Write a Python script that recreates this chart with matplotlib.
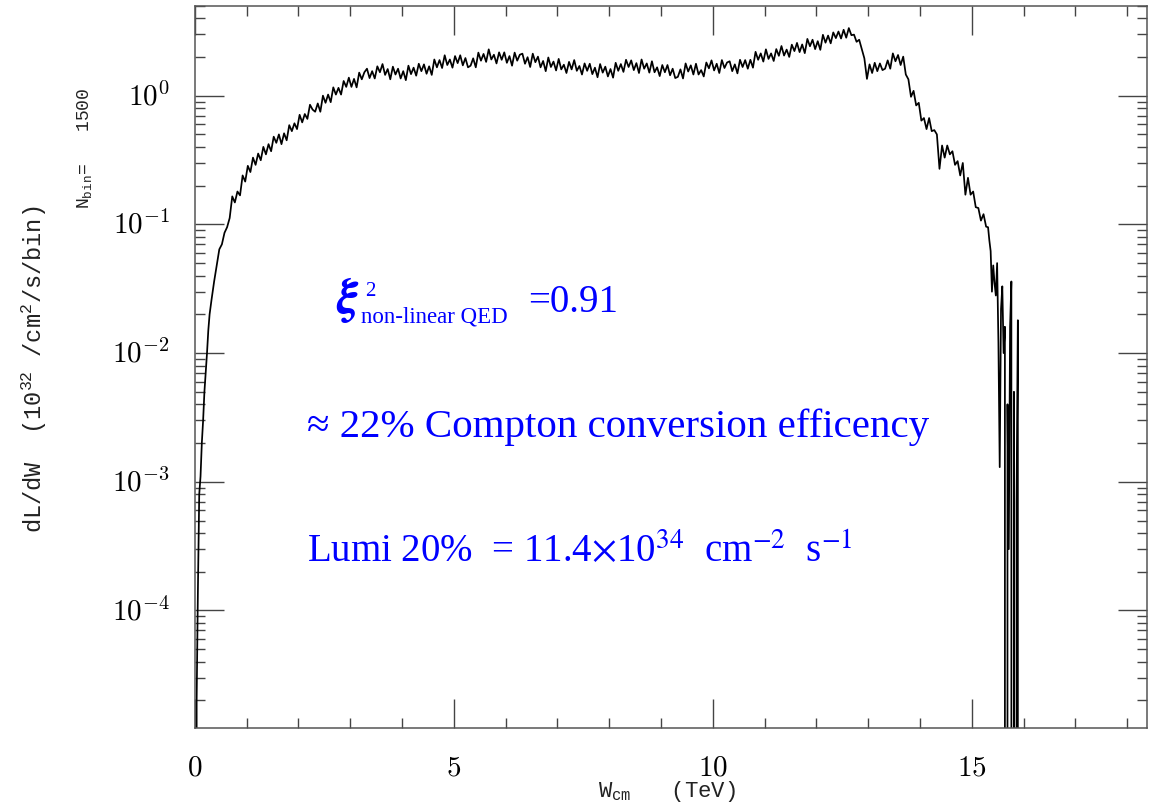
import numpy as np
import matplotlib.pyplot as plt
from matplotlib.ticker import LogLocator, NullFormatter

plt.rcParams['mathtext.fontset'] = 'custom'
plt.rcParams['mathtext.rm'] = 'Liberation Mono'
plt.rcParams['mathtext.it'] = 'Liberation Mono:italic'
plt.rcParams['mathtext.bf'] = 'Liberation Mono:bold'

# histogram: dL/dW per bin
# 0 - 0.3 TeV, bins of 0.025
head_vals = [0, 2e-5, 1.5e-4, 8e-4, 1.1e-3, 2.0e-3, 3.0e-3, 5.0e-3, 7.0e-3, 1.0e-2, 1.5e-2, 2.0e-2]

# 0.3 - 15.3 TeV, bins of 0.05 (one row = 1 TeV)
body_vals = [
    0.026, 0.036, 0.048, 0.064, 0.070, 0.086, 0.095, 0.112, 0.165, 0.148, 0.180, 0.168, 0.240, 0.215, 0.285, 0.255, 0.330, 0.290, 0.355, 0.315,
    0.40, 0.35, 0.42, 0.37, 0.48, 0.43, 0.50, 0.42, 0.51, 0.45, 0.59, 0.53, 0.61, 0.55, 0.71, 0.62, 0.72, 0.66, 0.85, 0.78,
    0.75, 0.87, 0.75, 1.00, 0.88, 1.02, 0.89, 1.16, 1.02, 1.15, 1.02, 1.30, 1.17, 1.38, 1.17, 1.35, 1.16, 1.51, 1.34, 1.52,
    1.62, 1.37, 1.55, 1.36, 1.69, 1.52, 1.76, 1.45, 1.61, 1.34, 1.68, 1.46, 1.62, 1.36, 1.55, 1.32, 1.71, 1.47, 1.65, 1.43,
    1.77, 1.55, 1.75, 1.48, 1.69, 1.45, 1.91, 1.66, 1.89, 1.64, 2.06, 1.73, 1.91, 1.65, 2.03, 1.79, 2.06, 1.72, 1.96, 1.66,
    1.71, 1.95, 1.66, 2.16, 1.87, 2.11, 1.83, 2.29, 1.91, 2.08, 1.78, 2.17, 1.90, 2.17, 1.80, 2.03, 1.71, 2.16, 1.87, 2.08,
    2.12, 1.77, 1.99, 1.67, 2.12, 1.82, 2.01, 1.66, 1.86, 1.55, 1.98, 1.67, 1.84, 1.57, 1.93, 1.60, 1.74, 1.50, 1.83, 1.60,
    1.89, 1.56, 1.70, 1.46, 1.78, 1.56, 1.77, 1.47, 1.65, 1.39, 1.76, 1.51, 1.68, 1.41, 1.61, 1.38, 1.80, 1.56, 1.76, 1.53,
    1.90, 1.67, 1.88, 1.58, 1.79, 1.50, 1.91, 1.62, 1.78, 1.51, 1.85, 1.52, 1.66, 1.42, 1.73, 1.52, 1.73, 1.44, 1.62, 1.37,
    1.40, 1.60, 1.36, 1.78, 1.54, 1.72, 1.46, 1.77, 1.46, 1.58, 1.41, 1.81, 1.63, 1.88, 1.57, 1.77, 1.50, 1.89, 1.64, 1.81,
    1.85, 1.55, 1.75, 1.49, 1.90, 1.67, 1.89, 1.62, 1.90, 1.65, 2.19, 1.90, 2.13, 1.84, 2.29, 1.93, 2.13, 1.86, 2.30, 2.04,
    2.43, 2.05, 2.28, 2.00, 2.49, 2.22, 2.57, 2.18, 2.50, 2.14, 2.76, 2.42, 2.72, 2.30, 2.65, 2.27, 2.97, 2.58, 2.93, 2.55,
    3.10, 2.80, 3.15, 2.78, 3.25, 2.82, 3.35, 2.95, 2.98, 2.62, 2.72, 2.30, 1.95, 1.35, 1.75, 1.50, 1.80, 1.55, 1.78, 1.58,
    1.62, 1.88, 1.62, 2.13, 1.85, 2.07, 1.73, 2.01, 1.46, 1.34, 0.98, 1.09, 0.84, 0.88, 0.64, 0.67, 0.55, 0.67, 0.53, 0.54,
    0.50, 0.27, 0.41, 0.33, 0.41, 0.35, 0.37, 0.29, 0.31, 0.24, 0.30, 0.17, 0.23, 0.17, 0.18, 0.136, 0.134, 0.107, 0.12, 0.096,
]

# 15.3 - 16.0 TeV, bins of 0.025 (empty bins = 0)
tail_vals = [0.095, 0.075, 0.062, 0.030, 0.048, 0.035, 0.028, 0.050, 0.012, 0.0013,
             0.022, 0.033, 0.010, 0.016, 0, 0.004, 0.0003, 0.016, 0.036, 0,
             0.005, 0, 0.0007, 0.018, 0, 0, 0, 0]

edges = np.concatenate([np.linspace(0, 0.3, 13)[:-1],
                        np.linspace(0.3, 15.3, 301)[:-1],
                        np.linspace(15.3, 16.0, 29)])
centers = 0.5 * (edges[:-1] + edges[1:])
vals = np.array(head_vals + body_vals + tail_vals)

major_y = [1e-4, 1e-3, 1e-2, 1e-1, 1e0]
major_y_labels = [r'$10^{-4}$', r'$10^{-3}$', r'$10^{-2}$', r'$10^{-1}$', r'$10^{0}$']
major_x = [0, 5, 10, 15]
major_x_labels = [r'$0$', r'$5$', r'$10$', r'$15$']

W, H = 1159, 803
fig = plt.figure(figsize=(W / 100, H / 100), dpi=100)
ax = fig.add_axes([194.7 / W, 1 - 729 / H, 952.6 / W, 722.3 / H])

ax.plot(centers, vals, color='black', linewidth=1.25)

ax.set_yscale('log')
ax.set_xlim(0, 18.386)
ax.set_ylim(1.222e-5, 5.0)

ax.set_xticks(major_x, labels=major_x_labels)
ax.set_xticks(np.arange(0, 19), minor=True)
ax.set_yticks(major_y, labels=major_y_labels)
ax.yaxis.set_minor_locator(LogLocator(base=10, subs=np.arange(2, 10), numticks=30))
ax.yaxis.set_minor_formatter(NullFormatter())

tc = '#444444'
ax.tick_params(which='both', direction='in', top=True, right=True, color=tc, width=1.0,
               pad=18, labelsize=21)
ax.tick_params(which='major', length=21)
ax.tick_params(which='minor', length=7.2)
for s in ax.spines.values():
    s.set_color('#555555')
    s.set_linewidth(1.1)

lab = '#222222'
fig.text(34 / W, 1 - 369 / H, r'dL/dW  (10$^{32}$ /cm$^{2}$/s/bin)', rotation=90,
         ha='center', va='center', fontfamily='Liberation Mono', fontsize=17, color=lab)
fig.text(84 / W, 1 - 148 / H, r'N$_{\rm bin}$=   1500', rotation=90,
         ha='center', va='center', fontfamily='Liberation Mono', fontsize=13, color=lab)
fig.text(667 / W, 1 - 792 / H, r'W$_{\rm cm}$   (TeV)', ha='center', va='center',
         fontfamily='Liberation Mono', fontsize=16, color=lab)

blue = '#0000ff'
serif = ['Liberation Serif', 'DejaVu Serif']
fig.text(336 / W, 1 - 313 / H, r'$\mathbfit{\xi}$', math_fontfamily='stix',
         fontsize=36, color=blue, va='baseline')
fig.text(365 / W, 1 - 296 / H, '2', fontfamily=serif, fontsize=15, color=blue, va='baseline')
fig.text(361 / W, 1 - 323 / H, 'non-linear QED', fontfamily=serif, fontsize=16.5, color=blue, va='baseline')
fig.text(528 / W, 1 - 312 / H, '=0.91', fontfamily=serif, fontsize=28, color=blue, va='baseline')
fig.text(307 / W, 1 - 437 / H, '≈ 22% Compton conversion efficency', fontfamily=serif,
         fontsize=29.5, color=blue, va='baseline')
fig.text(307 / W, 1 - 563 / H, r'Lumi 20%  = 11.4$\times$10$^{34}$  cm$^{-2}$  s$^{-1}$',
         fontfamily=serif, math_fontfamily='stix', fontsize=28, color=blue, va='baseline')

fig.canvas.draw()
for t in ax.get_xticklabels() + ax.get_yticklabels():
    t.set_math_fontfamily('cm')
for t in ax.get_yticklabels():
    t.set_va('center')

fig.savefig('out.png', dpi=100)
